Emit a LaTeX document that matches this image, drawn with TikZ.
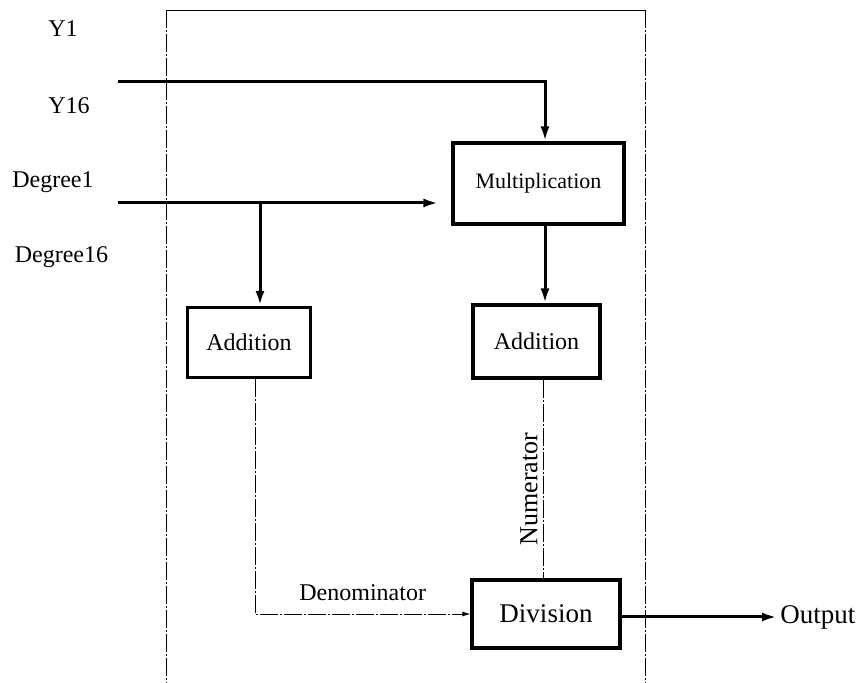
\documentclass[tikz,border=0pt]{standalone}
\usepackage{fontspec}
\setmainfont{Liberation Serif}
\usetikzlibrary{arrows.meta,calc}

\begin{document}
\begin{tikzpicture}[
    x=0.5pt, y=-0.5pt,
    block/.style={rectangle, draw, line width=1.6pt, inner sep=0pt, font=\fontsize{12}{14}\selectfont},
    line/.style={draw, -{Latex[length=7.5pt,width=4.5pt]}, line width=1.5pt},
    wire/.style={draw, line width=0.45pt, dash pattern=on 9pt off 1pt on 1pt off 1pt},
    lbl/.style={font=\fontsize{12}{14}\selectfont, inner sep=1.5pt}
]
    \useasboundingbox (0,0) rectangle (859,683);

    % frame round the arithmetic unit
    \draw [line width=0.45pt] (166,10) -- (645,10);
    \draw [wire] (166,10) -- (166,683);
    \draw [wire] (645,10) -- (645,683);

    % inputs
    \node [lbl] (y1) at (63,29) {Y1};
    \node [lbl] (y16) at (69,106) {Y16};
    \node [lbl] (deg1) at (53,182) {Degree1};
    \node [lbl] (deg16) at (61.5,257) {Degree16};
    \coordinate (yin) at (118,82);
    \coordinate (degin) at (118,203);
    \coordinate (branch) at (260,203);

    % blocks
    \node [block, minimum width=85.5pt, minimum height=40.5pt, font=\fontsize{11}{13}\selectfont] (mul) at (538.5,183.5) {Multiplication};
    \node [block, minimum width=61.5pt, minimum height=35pt] (add1) at (249,342.5) {Addition};
    \node [block, minimum width=63.5pt, minimum height=36.5pt] (add2) at (536.5,341.5) {Addition};
    \node [block, minimum width=74pt, minimum height=34pt, font=\fontsize{13.5}{15}\selectfont] (div) at (546,614) {Division};
    \node [lbl, anchor=west, font=\fontsize{13.5}{15}\selectfont] (out) at (777,617) {Output};

    \draw [line] (yin) -| ([xshift=3.25pt]mul.north);
    \draw [line] (degin) -- ([xshift=-6.5pt]mul.west |- degin);
    \draw [line] (branch) -- ([xshift=5.5pt]add1.north);
    \draw [line] ([xshift=3.25pt]mul.south) -- ([xshift=4.25pt]add2.north);
    \draw [wire] ([xshift=3.25pt]add2.south) -- ([xshift=3.25pt]add2.south |- div.north)
        node [lbl, rotate=90, anchor=south, pos=0.55, inner sep=2.5pt, font=\fontsize{13}{15}\selectfont] {Numerator};
    \draw [wire, -{Latex[length=4pt,width=2.5pt]}] ([xshift=3pt]add1.south) |- (div.west)
        node [lbl, pos=0.75, above=5pt] {Denominator};
    \draw [line] ([yshift=-1.5pt]div.east) -- (out.west);
\end{tikzpicture}
\end{document}
